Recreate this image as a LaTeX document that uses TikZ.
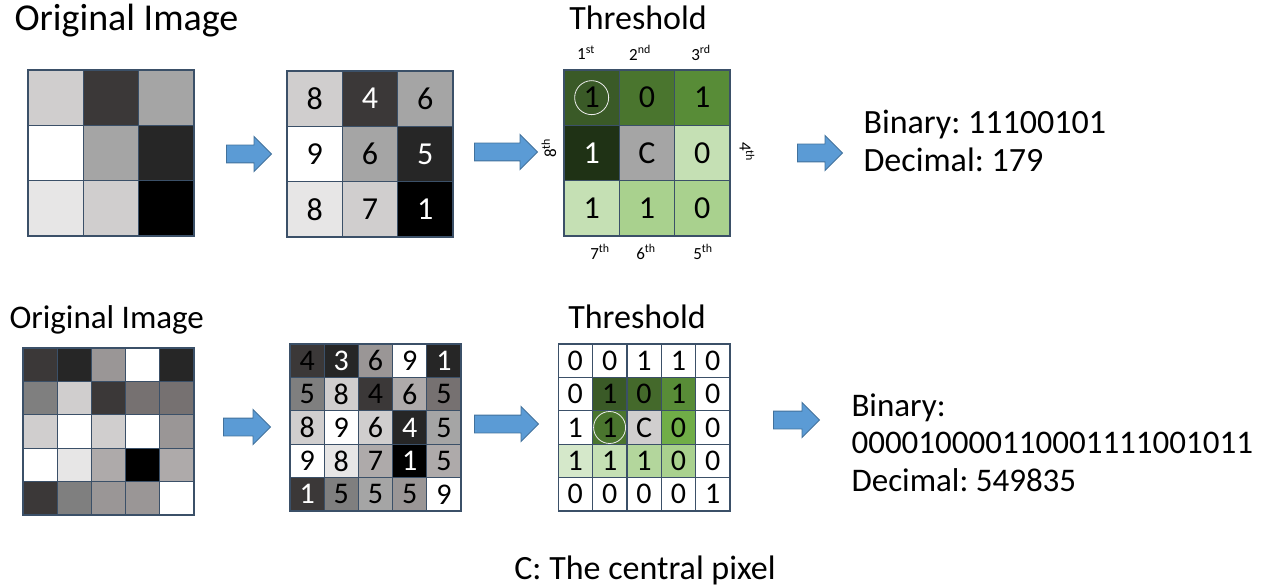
\documentclass[tikz,border=0pt]{standalone}
\usepackage{fontspec}
\setmainfont{Carlito}
\usepackage{tikz}
\usetikzlibrary{positioning}
\usetikzlibrary{shapes.arrows}
\frenchspacing

\definecolor{gridline}{HTML}{3B5068}
\definecolor{arrowfill}{HTML}{5B9BD5}
\definecolor{arrowline}{HTML}{41719C}
% greys
\definecolor{gA}{HTML}{D0CECE}
\definecolor{gB}{HTML}{3B3838}
\definecolor{gC}{HTML}{A5A5A5}
\definecolor{gD}{HTML}{262626}
\definecolor{gE}{HTML}{E7E6E6}
\definecolor{gF}{HTML}{7F7F7F}
\definecolor{gG}{HTML}{767171}
\definecolor{gH}{HTML}{AEAAAA}
\definecolor{gI}{HTML}{9A9696}
% greens
\definecolor{grA}{HTML}{3A5A27}
\definecolor{grB}{HTML}{4A752E}
\definecolor{grC}{HTML}{588C37}
\definecolor{grD}{HTML}{1F3215}
\definecolor{grE}{HTML}{C5E0B4}
\definecolor{grF}{HTML}{A9D18E}
\definecolor{grG}{HTML}{70AD47}
\definecolor{grH}{HTML}{D5E8CA}
\definecolor{grI}{HTML}{44692B}
\definecolor{grJ}{HTML}{B3D69C}

\begin{document}
\begin{tikzpicture}[x=1pt,y=-1pt,
	cell/.style={draw=gridline, line width=1.2pt, inner sep=0pt},
	bigcell/.style={cell, minimum width=55.3pt, minimum height=55.3pt, font=\fontsize{32}{34}\selectfont},
	smallcell/.style={cell, minimum width=34.2pt, minimum height=33.4pt, font=\fontsize{30}{32}\selectfont},
	blockarrow/.style={single arrow, fill=arrowfill, draw=arrowline, line width=0.9pt,
		inner xsep=0pt, inner ysep=8.5pt, single arrow head extend=8.5pt, anchor=tail},
	title/.style={font=\fontsize{34}{38}\selectfont},
	subtitle/.style={font=\fontsize{33}{37.5}\selectfont},
	ordinal/.style={font=\fontsize{17}{19}\selectfont},
	pick/.style={draw=white!85!gray, line width=0.8pt}]
	
	\useasboundingbox (0,0) rectangle (1263,588);
	
	%%%% 3x3 example
	\node[title, font=\fontsize{38}{40}\selectfont, anchor=base west] (otitle) at (11,31) {Original Image};
	\node[title, anchor=base] (ttitle) at (638,30) {Threshold};
	
	\begin{scope}[shift={(28,70)}]
		\foreach \row [count=\rr] in {{gA,gB,gC},{white,gC,gD},{gE,gA,black}} {
			\foreach \f [count=\cc] in \row {
				\node[bigcell, fill=\f] (orig-\rr-\cc) at ({(\cc-0.5)*55.3},{(\rr-0.5)*55.3}) {};
			}
		}
	\end{scope}
	
	\begin{scope}[shift={(287,71)}]
		\foreach \row [count=\rr] in {{gA/8/black,gB/4/white,gC/6/black},
			{white/9/black,gC/6/black,gD/5/white},{gE/8/black,gA/7/black,black/1/white}} {
			\foreach \f/\val/\tcol [count=\cc] in \row {
				\node[bigcell, fill=\f, text=\tcol] (val-\rr-\cc) at ({(\cc-0.5)*55.3},{(\rr-0.5)*55.3}) {\val};
			}
		}
	\end{scope}
	
	\begin{scope}[shift={(564,70)}]
		\foreach \row [count=\rr] in {{grA/1/black,grB/0/black,grC/1/black},
			{grD/1/white,gC/C/black,grE/0/black},{grE/1/black,grF/1/black,grF/0/black}} {
			\foreach \f/\val/\tcol [count=\cc] in \row {
				\node[bigcell, fill=\f, text=\tcol] (thr-\rr-\cc) at ({(\cc-0.5)*55.3},{(\rr-0.5)*55.3}) {\val};
			}
		}
	\end{scope}
	\draw[pick] (thr-1-1.center) circle (17pt);
	
	% neighbour order
	\node[ordinal] (n1) at (586,53) {1\textsuperscript{st}};
	\node[ordinal] (n2) at (640,53) {2\textsuperscript{nd}};
	\node[ordinal] (n3) at (701,53) {3\textsuperscript{rd}};
	\node[ordinal, rotate=-90] (n4) at (747,152) {4\textsuperscript{th}};
	\node[ordinal] (n5) at (703,252) {5\textsuperscript{th}};
	\node[ordinal] (n6) at (646,252) {6\textsuperscript{th}};
	\node[ordinal] (n7) at (600,252) {7\textsuperscript{th}};
	\node[ordinal, rotate=90] (n8) at (549,148) {8\textsuperscript{th}};
	
	\node[blockarrow, minimum height=45pt] (a1) at (226,154) {};
	\node[blockarrow, minimum height=63pt] (a2) at (474,152) {};
	\node[blockarrow, minimum height=45pt] (a3) at (797,153) {};
	
	\node[title, anchor=base west, align=left] (res1) at (860,172) {Binary: 11100101\\Decimal: 179};
	
	%%%% 5x5 example
	\node[subtitle, anchor=base west] (otitle5) at (6,328) {Original Image};
	\node[title, anchor=base] (ttitle5) at (637,328) {Threshold};
	
	\begin{scope}[shift={(23,348)}]
		\foreach \row [count=\rr] in {{gB,gD,gI,white,gD},{gF,gA,gB,gG,gG},
			{gA,white,gA,white,gI},{white,gE,gH,black,gH},{gB,gF,gI,gI,white}} {
			\foreach \f [count=\cc] in \row {
				\node[smallcell, fill=\f] (orig5-\rr-\cc) at ({(\cc-0.5)*34.2},{(\rr-0.5)*33.4}) {};
			}
		}
	\end{scope}
	
	\begin{scope}[shift={(290,344)}]
		\foreach \row [count=\rr] in {{gB/4/black,gD/3/white,gI/6/black,white/9/black,gD/1/white},
			{gF/5/black,gA/8/black,gB/4/black,gH/6/black,gG/5/black},
			{gA/8/black,white/9/black,gA/6/black,gD/4/white,gC/5/black},
			{white/9/black,gE/8/black,gH/7/black,black/1/white,gH/5/black},
			{gB/1/white,gF/5/black,gC/5/black,gI/5/black,white/9/black}} {
			\foreach \f/\val/\tcol [count=\cc] in \row {
				\node[smallcell, fill=\f, text=\tcol] (val5-\rr-\cc) at ({(\cc-0.5)*34.2},{(\rr-0.5)*33.4}) {\val};
			}
		}
	\end{scope}
	
	\begin{scope}[shift={(558,344)}]
		\foreach \row [count=\rr] in {{white/0,white/0,white/1,white/1,white/0},
			{white/0,grA/1,grI/0,grC/1,white/0},
			{white/1,grB/1,gA/C,grG/0,white/0},
			{grH/1,grE/1,grJ/1,grF/0,white/0},
			{white/0,white/0,white/0,white/0,white/1}} {
			\foreach \f/\val [count=\cc] in \row {
				\node[smallcell, fill=\f] (thr5-\rr-\cc) at ({(\cc-0.5)*34.4},{(\rr-0.5)*33.4}) {\val};
			}
		}
	\end{scope}
	\draw[pick] (thr5-3-2.center) circle (16pt);
	
	\node[blockarrow, minimum height=47pt] (b1) at (223,427) {};
	\node[blockarrow, minimum height=64pt] (b2) at (474,424) {};
	\node[blockarrow, minimum height=46pt] (b3) at (773,420) {};
	
	\node[subtitle, anchor=base west, align=left] (res5) at (848,491) {Binary:\\000010000110001111001011\\Decimal: 549835};
	
	\node[title, anchor=base] (note) at (645,579) {C: The central pixel};
	
\end{tikzpicture}
\end{document}
